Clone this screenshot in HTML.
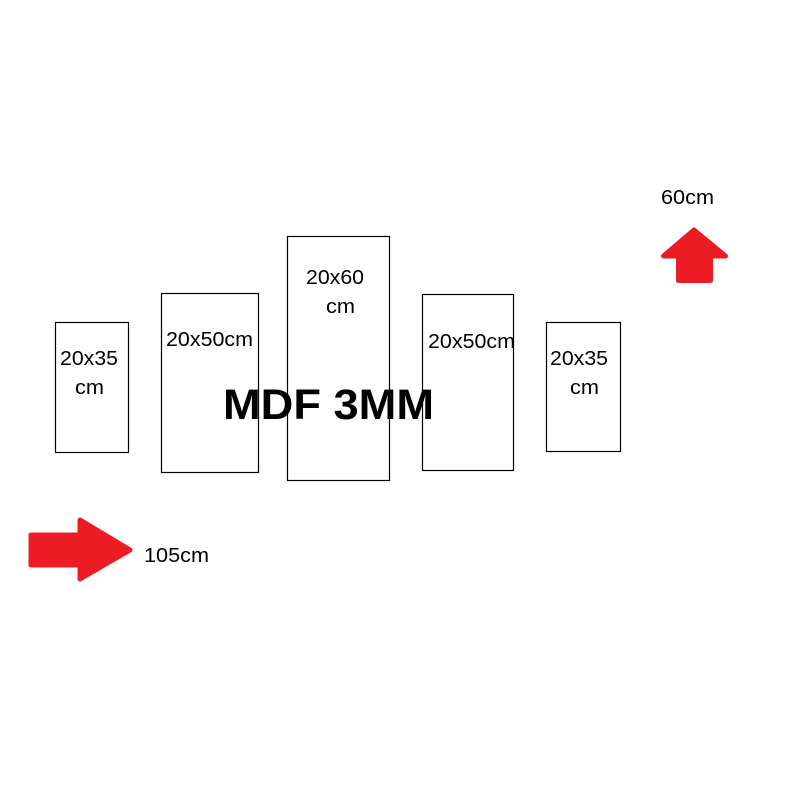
<!DOCTYPE html>
<html>
<head>
<meta charset="utf-8">
<style>
html,body{margin:0;padding:0;background:#fff}
svg{display:block}
text{font-family:"Liberation Sans",sans-serif;fill:#000}
</style>
</head>
<body>
<svg width="793" height="793" viewBox="0 0 793 793" xmlns="http://www.w3.org/2000/svg">
<rect width="793" height="793" fill="#fff"/>
<g fill="none" stroke="#000" stroke-width="1.200">
<rect x="55.500" y="322.500" width="73" height="130"/>
<rect x="161.500" y="293.500" width="97" height="179"/>
<rect x="287.500" y="236.500" width="102" height="244"/>
<rect x="422.500" y="294.500" width="91" height="176"/>
<rect x="546.500" y="322.500" width="74" height="129"/>
</g>
<g fill="#ed1c24" stroke="#ed1c24" stroke-width="5" stroke-linejoin="round">
<polygon points="31,535 80,535 80,520 130,550 80,579 80,565 31,565"/>
<polygon points="694,230 725.500,256 710.500,256 710.500,280.500 678.500,280.500 678.500,256 663.500,256"/>
</g>
<g font-size="20">
<text x="60" y="365" textLength="58" lengthAdjust="spacingAndGlyphs">20x35</text>
<text x="75" y="394" textLength="29" lengthAdjust="spacingAndGlyphs">cm</text>
<text x="166" y="346" textLength="87" lengthAdjust="spacingAndGlyphs">20x50cm</text>
<text x="306" y="284" textLength="58" lengthAdjust="spacingAndGlyphs">20x60</text>
<text x="326" y="313" textLength="29" lengthAdjust="spacingAndGlyphs">cm</text>
<text x="428" y="348" textLength="87" lengthAdjust="spacingAndGlyphs">20x50cm</text>
<text x="550" y="365" textLength="58" lengthAdjust="spacingAndGlyphs">20x35</text>
<text x="570" y="394" textLength="29" lengthAdjust="spacingAndGlyphs">cm</text>
<text x="144" y="562" textLength="65" lengthAdjust="spacingAndGlyphs">105cm</text>
<text x="661" y="204" textLength="53" lengthAdjust="spacingAndGlyphs">60cm</text>
</g>
<text x="223" y="419" font-size="43" font-weight="bold" textLength="211" lengthAdjust="spacingAndGlyphs">MDF 3MM</text>
</svg>
</body>
</html>
